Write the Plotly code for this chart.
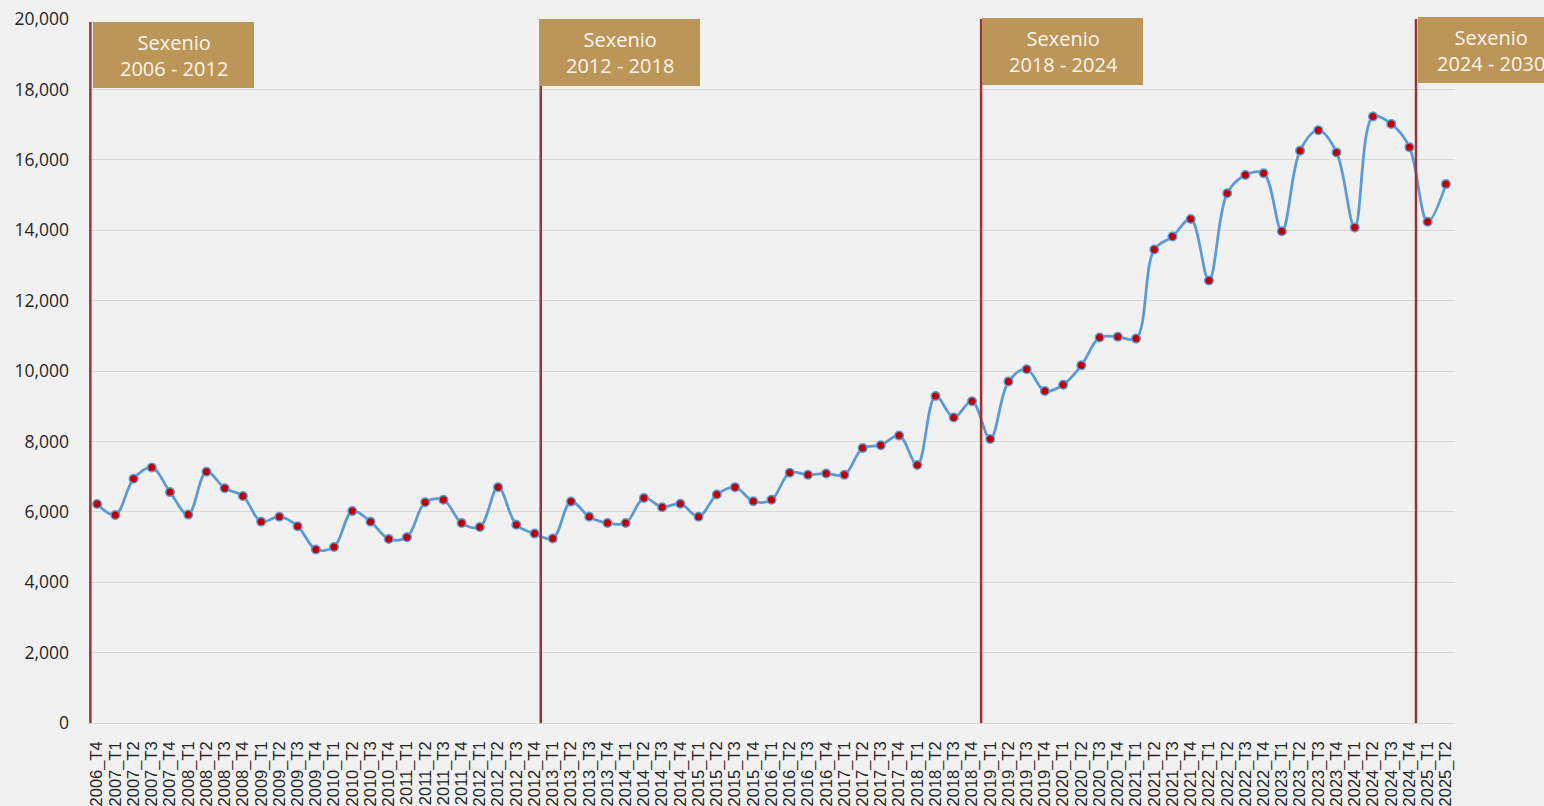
import plotly.graph_objects as go

labels = ["2006_T4"] + [f"{y}_T{q}" for y in range(2007, 2025) for q in range(1, 5)] + ["2025_T1", "2025_T2"]

values = [
    6220, 5910, 6940, 7260, 6560, 5920, 7140, 6670, 6450, 5720,
    5860, 5590, 4930, 5000, 6020, 5720, 5230, 5280, 6270, 6340,
    5680, 5570, 6700, 5630, 5380,
    5240, 6290, 5860, 5680, 5680, 6390, 6130, 6230, 5860, 6490,
    6700, 6300, 6340, 7110, 7050, 7090, 7050, 7810, 7890, 8170,
    7330, 9290, 8680, 9140,
    8070, 9700, 10050, 9430, 9610, 10160, 10950, 10970, 10920, 13450,
    13820, 14320, 12570, 15050, 15570, 15620, 13970, 16260, 16840, 16210,
    14080, 17230, 17020, 16360, 14240, 15310,
]

sexenio_labels = ["Sexenio<br>2006 - 2012", "Sexenio<br>2012 - 2018",
                  "Sexenio<br>2018 - 2024", "Sexenio<br>2024 - 2030"]
# boundary positions (in category-index units) of each sexenio marker line
sexenio_pos = [-0.37, 24.34, 48.5, 72.36]

y_ticks = list(range(0, 20001, 2000))

W, H = 1544, 806
L, R, T, B = 88, 89, 19, 83
pw, ph = W - L - R, H - T - B

def px_x(p):
    return (p - L) / pw

def px_y(p):
    return (H - B - p) / ph

x = list(range(len(labels)))

fig = go.Figure()
fig.add_trace(go.Scatter(
    x=x, y=values, mode="lines+markers",
    line=dict(color="#5B9BD5", width=2.75, shape="spline", smoothing=1),
    marker=dict(color="#C00000", size=8.5, line=dict(color="#5B9BD5", width=1.5)),
    showlegend=False, hoverinfo="x+y",
))

# box geometry in pixels (left, right, top, bottom) and text center x
boxes = [(93, 254, 22, 88, 174), (540, 700, 19, 86, 620),
         (982, 1143, 18, 85, 1063), (1418, 1580, 17, 83, 1491)]
line_tops = [22, 19, 19, 19]

shapes = []
annotations = []
for i, (pos, lab) in enumerate(zip(sexenio_pos, sexenio_labels)):
    bx0, bx1, by0, by1, tx = boxes[i]
    shapes.append(dict(type="line", xref="x", yref="paper", x0=pos, x1=pos,
                       y0=0, y1=px_y(line_tops[i]),
                       line=dict(color="#9E3232", width=2.5)))
    shapes.append(dict(type="rect", xref="paper", yref="paper",
                       x0=px_x(bx0), x1=px_x(bx1), y0=px_y(by1), y1=px_y(by0),
                       fillcolor="#BC9558", line=dict(width=0)))
    annotations.append(dict(xref="paper", yref="paper", x=px_x(tx), y=px_y((by0 + by1) / 2),
                            text=lab, showarrow=False, xanchor="center", yanchor="middle",
                            font=dict(family="Open Sans", size=20, color="#FBF6EE")))

fig.update_layout(
    width=W, height=H,
    margin=dict(l=L, r=R, t=T, b=B, autoexpand=False),
    paper_bgcolor="#F1F1F1", plot_bgcolor="#F1F1F1",
    shapes=shapes, annotations=annotations,
    xaxis=dict(range=[-0.5, len(labels) - 0.5], tickvals=x, ticktext=labels,
               tickangle=-90, showgrid=False, zeroline=False, showline=False,
               ticks="", ticklabelstandoff=14,
               tickfont=dict(family="Liberation Sans", size=16.5, color="#262626")),
    yaxis=dict(range=[0, 20000], tickvals=y_ticks, tickformat=",",
               showgrid=True, gridcolor="#D9D9D9", gridwidth=1,
               zeroline=True, zerolinecolor="#D9D9D9", zerolinewidth=1,
               showline=False, ticks="", ticklabelstandoff=18,
               tickfont=dict(family="Open Sans", size=17.5, color="#262626")),
)

fig.write_html(
    "out.html",
    config={"displayModeBar": False},
    post_script="document.body.style.margin='0';document.body.style.background='#F1F1F1';"
                "document.documentElement.style.overflow='hidden';",
)
